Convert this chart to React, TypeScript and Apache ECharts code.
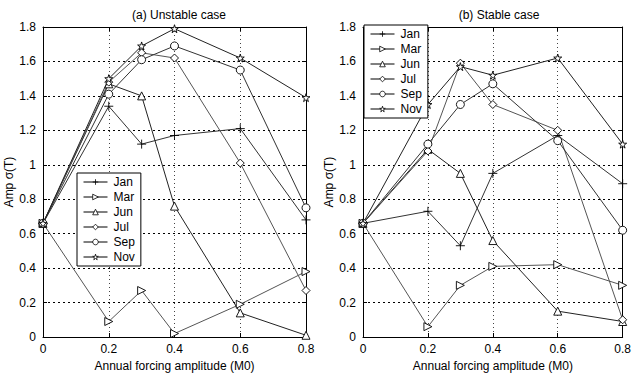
import React, { useEffect, useRef } from "react";
import * as echarts from "echarts";

const xValues = [0, 0.2, 0.3, 0.4, 0.6, 0.8];
const seriesNames = ["Jan", "Mar", "Jun", "Jul", "Sep", "Nov"];

// (a) Unstable case
const janA = [0.66, 1.34, 1.12, 1.17, 1.21, 0.68];
const marA = [0.66, 0.09, 0.27, 0.02, 0.19, 0.38];
const junA = [0.66, 1.47, 1.4, 0.76, 0.14, 0.01];
const julA = [0.66, 1.48, 1.65, 1.62, 1.01, 0.27];
const sepA = [0.66, 1.41, 1.61, 1.69, 1.55, 0.75];
const novA = [0.66, 1.5, 1.69, 1.79, 1.62, 1.39];

// (b) Stable case
const janB = [0.66, 0.73, 0.53, 0.95, 1.17, 0.89];
const marB = [0.66, 0.06, 0.3, 0.41, 0.42, 0.3];
const junB = [0.66, 1.09, 0.95, 0.56, 0.15, 0.09];
const julB = [0.66, 1.08, 1.59, 1.35, 1.2, 0.1];
const sepB = [0.66, 1.12, 1.35, 1.47, 1.14, 0.62];
const novB = [0.66, 1.35, 1.57, 1.52, 1.62, 1.12];

const titles = ["(a) Unstable case", "(b) Stable case"];
const xName = "Annual forcing amplitude (M0)";
const yName = "Amp \u03c3(T)";

const FONT = "Liberation Sans, Arial, Helvetica, sans-serif";

const symbols: Record<string, { symbol: string; size: number }> = {
  Jan: { symbol: "path://M5,0L5,10M0,5L10,5", size: 9 },
  Mar: { symbol: "path://M0,0L10,5L0,10Z", size: 8 },
  Jun: { symbol: "triangle", size: 8 },
  Jul: { symbol: "diamond", size: 8 },
  Sep: { symbol: "circle", size: 8 },
  Nov: {
    symbol:
      "path://M50,0L61,35L98,35L68,57L79,91L50,70L21,91L32,57L2,35L39,35Z",
    size: 8,
  },
};

const lineColors = ["#333", "#555", "#222", "#555", "#333", "#222"];

function makeSeries(name: string, values: number[], idx: number, gi: number) {
  const s = symbols[name];
  return {
    type: "line",
    name,
    xAxisIndex: gi * 2,
    yAxisIndex: gi * 2,
    data: xValues.map((x, i) => [x, values[i]]),
    symbol: s.symbol,
    symbolSize: s.size,
    showAllSymbol: true,
    lineStyle: { color: lineColors[idx], width: 1 },
    itemStyle: { color: "#fff", borderColor: "#000", borderWidth: 0.9 },
    emphasis: { disabled: true },
    clip: false,
  };
}

const fmt = (v: number) => String(Math.round(v * 10) / 10);

function axesFor(gi: number) {
  const bottomX = {
    type: "value",
    gridIndex: gi,
    position: "bottom",
    min: 0,
    max: 0.8,
    interval: 0.2,
    name: xName,
    nameLocation: "middle",
    nameGap: 21,
    nameTextStyle: { color: "#000", fontSize: 12, fontFamily: FONT },
    axisLine: { show: true, onZero: false, lineStyle: { color: "#000", width: 1 } },
    axisTick: { show: true, inside: true, length: 4, lineStyle: { color: "#000" } },
    axisLabel: { color: "#000", fontSize: 12, fontFamily: FONT, margin: 6, formatter: fmt },
    splitLine: { show: true, lineStyle: { color: "#444", type: [1, 3], width: 1 } },
  };
  const topX = {
    type: "value",
    gridIndex: gi,
    position: "top",
    min: 0,
    max: 0.8,
    interval: 0.2,
    axisLine: { show: true, onZero: false, lineStyle: { color: "#000", width: 1 } },
    axisTick: { show: true, inside: true, length: 4, lineStyle: { color: "#000" } },
    axisLabel: { show: false },
    splitLine: { show: false },
  };
  const leftY = {
    type: "value",
    gridIndex: gi,
    position: "left",
    min: 0,
    max: 1.8,
    interval: 0.2,
    name: yName,
    nameLocation: "middle",
    nameGap: 27,
    nameTextStyle: { color: "#000", fontSize: 12, fontFamily: FONT },
    axisLine: { show: true, onZero: false, lineStyle: { color: "#000", width: 1 } },
    axisTick: { show: true, inside: true, length: 4, lineStyle: { color: "#000" } },
    axisLabel: { color: "#000", fontSize: 12, fontFamily: FONT, margin: 7, formatter: fmt },
    splitLine: { show: true, lineStyle: { color: "#000", type: [2, 3], width: 1 } },
  };
  const rightY = {
    type: "value",
    gridIndex: gi,
    position: "right",
    min: 0,
    max: 1.8,
    interval: 0.2,
    axisLine: { show: true, onZero: false, lineStyle: { color: "#000", width: 1 } },
    axisTick: { show: true, inside: true, length: 4, lineStyle: { color: "#000" } },
    axisLabel: { show: false },
    splitLine: { show: false },
  };
  return { xs: [bottomX, topX], ys: [leftY, rightY] };
}

export default function App() {
  const ref = useRef<HTMLDivElement>(null);
  useEffect(() => {
    if (!ref.current) return;
    const chart = echarts.init(ref.current, null, { renderer: "svg" });
    const a0 = axesFor(0);
    const a1 = axesFor(1);
    const dataA = [janA, marA, junA, julA, sepA, novA];
    const dataB = [janB, marB, junB, julB, sepB, novB];
    const series: any[] = [];
    seriesNames.forEach((n, i) => series.push(makeSeries(n, dataA[i], i, 0)));
    seriesNames.forEach((n, i) => series.push(makeSeries(n, dataB[i], i, 1)));
    const legendBase = {
      orient: "vertical",
      data: seriesNames,
      backgroundColor: "#fff",
      borderColor: "#000",
      borderWidth: 1,
      borderRadius: 0,
      padding: [3, 6, 3, 6],
      itemGap: 3,
      itemWidth: 24,
      itemHeight: 7,
      symbolKeepAspect: true,
      itemStyle: { color: "#fff", borderColor: "#000", borderWidth: 0.8 },
      lineStyle: { color: "#000", width: 1 },
      selectedMode: false,
      textStyle: {
        color: "#000",
        fontSize: 12,
        fontFamily: FONT,
        lineHeight: 12,
        padding: [0, 0, 0, 1],
      },
    };
    chart.setOption({
      animation: false,
      backgroundColor: "#fff",
      title: [
        {
          text: titles[0],
          left: 174,
          top: 4,
          textAlign: "center",
          textStyle: { color: "#000", fontSize: 12, fontWeight: "normal", fontFamily: FONT },
        },
        {
          text: titles[1],
          left: 494,
          top: 4,
          textAlign: "center",
          textStyle: { color: "#000", fontSize: 12, fontWeight: "normal", fontFamily: FONT },
        },
      ],
      grid: [
        { left: 43, top: 27, width: 263, height: 310 },
        { left: 363, top: 27, width: 262, height: 310 },
      ],
      xAxis: [...a0.xs, ...a1.xs],
      yAxis: [...a0.ys, ...a1.ys],
      legend: [
        { ...legendBase, left: 77, top: 173 },
        { ...legendBase, left: 364, top: 25 },
      ],
      series,
    });
    return () => chart.dispose();
  }, []);
  return (
    <div
      ref={ref}
      style={{ position: "fixed", left: 0, top: 0, width: 634, height: 377, background: "#fff" }}
    />
  );
}
